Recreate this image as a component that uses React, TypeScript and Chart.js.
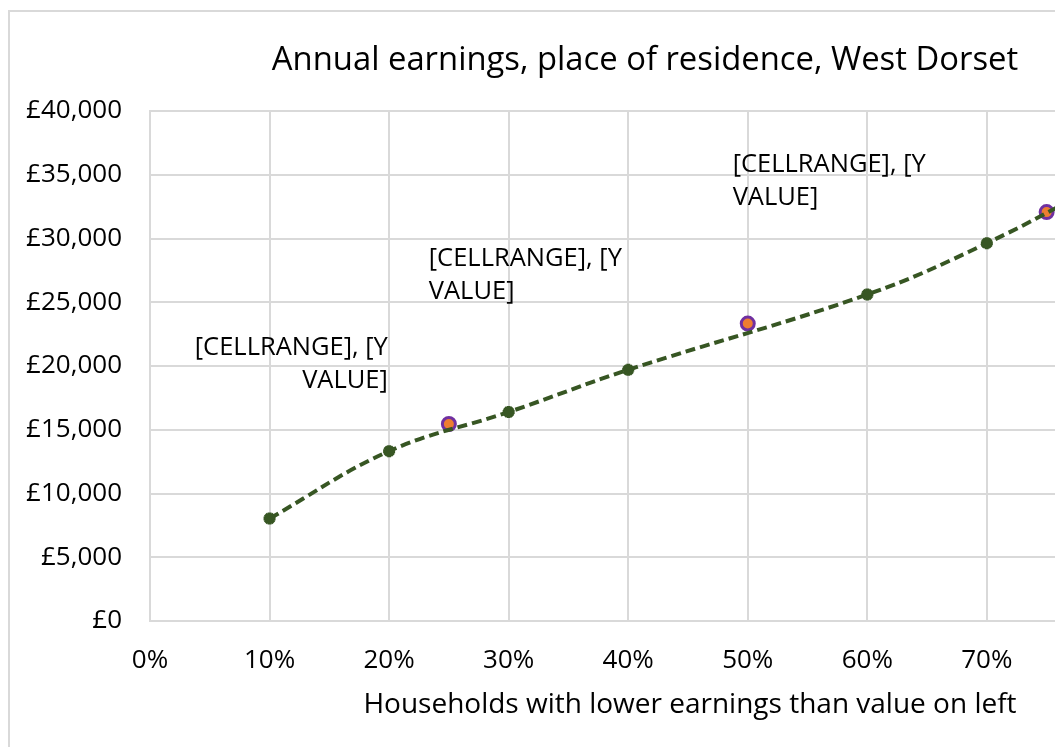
import { useEffect, useRef } from "react";
import { Chart, registerables } from "chart.js";

Chart.register(...registerables);

// ---- data ----
const decilePositions = [0.1, 0.2, 0.3, 0.4, 0.6, 0.7, 0.8];
const decileEarnings = [8040, 13320, 16390, 19700, 25610, 29630, 34500];
const quartilePositions = [0.25, 0.5, 0.75];
const quartileEarnings = [15450, 23330, 32070];
const quartileLabelLines = ["[CELLRANGE], [Y", "VALUE]"];
const xTickValues = [0, 0.1, 0.2, 0.3, 0.4, 0.5, 0.6, 0.7];
const xAxisMin = 0;
const xAxisMax = 0.757;
const yAxisMin = 0;
const yAxisMax = 40000;
const yAxisStep = 5000;
const chartTitle = "Annual earnings, place of residence, West Dorset";
const xAxisTitle = "Households with lower earnings than value on left";

const FONT = "'Open Sans', sans-serif";
const GREEN = "#375623";
const GRID = "#d9d9d9";

// label placement relative to each quartile point (px)
const labelPlacement = [
  { align: "right" as CanvasTextAlign, dx: -61, dy: -76 },
  { align: "left" as CanvasTextAlign, dx: -319, dy: -65 },
  { align: "left" as CanvasTextAlign, dx: -314, dy: -47 },
];

const textPlugin = {
  id: "textPlugin",
  afterDatasetsDraw(chart: any) {
    const ctx = chart.ctx as CanvasRenderingContext2D;
    ctx.save();
    ctx.fillStyle = "#000";
    const meta = chart.getDatasetMeta(1);
    ctx.font = `25.5px ${FONT}`;
    ctx.textBaseline = "middle";
    meta.data.forEach((pt: any, i: number) => {
      const p = labelPlacement[i];
      if (!p) return;
      ctx.textAlign = p.align;
      quartileLabelLines.forEach((line, j) => {
        ctx.fillText(line, pt.x + p.dx, pt.y + p.dy + j * 33);
      });
    });
    ctx.restore();
  },
  afterDraw(chart: any) {
    const ctx = chart.ctx as CanvasRenderingContext2D;
    ctx.save();
    ctx.fillStyle = "#000";
    ctx.textAlign = "center";
    ctx.textBaseline = "middle";
    ctx.font = `32.8px ${FONT}`;
    ctx.fillText(chartTitle, 645, 61);
    ctx.font = `28px ${FONT}`;
    ctx.fillText(xAxisTitle, 690, 705);
    ctx.restore();
  },
};

export default function App() {
  const canvasRef = useRef<HTMLCanvasElement | null>(null);

  useEffect(() => {
    if (!canvasRef.current) return;
    const chart = new Chart(canvasRef.current, {
      type: "line",
      data: {
        datasets: [
          {
            label: "Deciles",
            data: decilePositions.map((x, i) => ({ x, y: decileEarnings[i] })),
            borderColor: GREEN,
            backgroundColor: GREEN,
            borderWidth: 4,
            borderDash: [10, 5],
            tension: 0.4,
            pointStyle: "star",
            pointRadius: 6,
            pointBorderWidth: 4,
            pointBorderColor: GREEN,
            pointBackgroundColor: GREEN,
          },
          {
            label: "Quartiles",
            data: quartilePositions.map((x, i) => ({ x, y: quartileEarnings[i] })),
            showLine: false,
            pointStyle: "circle",
            pointRadius: 6.5,
            pointBorderWidth: 3,
            pointBorderColor: "#7030a0",
            pointBackgroundColor: "#ed7d31",
          },
        ],
      },
      options: {
        animation: false,
        responsive: false,
        devicePixelRatio: 1,
        layout: { autoPadding: false, padding: { top: 111, left: 0, right: 0, bottom: 0 } },
        plugins: {
          legend: { display: false },
          tooltip: { enabled: false },
          title: { display: false },
        },
        scales: {
          x: {
            type: "linear",
            min: xAxisMin,
            max: xAxisMax,
            afterBuildTicks: (scale: any) => {
              scale.ticks = xTickValues.map((v) => ({ value: v }));
            },
            afterFit: (scale: any) => {
              scale.height = 126;
              scale.paddingLeft = 0;
              scale.paddingRight = 0;
            },
            grid: { color: GRID, lineWidth: 2, drawTicks: false },
            border: { color: GRID, width: 2 },
            ticks: {
              padding: 24,
              color: "#000",
              font: { family: FONT, size: 26 },
              maxRotation: 0,
              callback: (v: any) => `${Math.round(Number(v) * 100)}%`,
            },
          },
          y: {
            min: yAxisMin,
            max: yAxisMax,
            afterFit: (scale: any) => {
              scale.width = 150;
              scale.paddingTop = 0;
              scale.paddingBottom = 0;
            },
            grid: { color: GRID, lineWidth: 2, drawTicks: false },
            border: { color: GRID, width: 2 },
            ticks: {
              stepSize: yAxisStep,
              padding: 28,
              color: "#000",
              font: { family: FONT, size: 26 },
              callback: (v: any) => `£${Number(v).toLocaleString("en-GB")}`,
            },
          },
        },
      },
      plugins: [textPlugin],
    });
    return () => chart.destroy();
  }, []);

  return (
    <div
      style={{
        position: "fixed",
        left: 0,
        top: 0,
        width: 1055,
        height: 747,
        overflow: "hidden",
        background: "#fff",
      }}
    >
      <div
        style={{
          position: "absolute",
          left: 8,
          top: 10,
          right: -10,
          bottom: -10,
          borderLeft: `2px solid ${GRID}`,
          borderTop: `2px solid ${GRID}`,
        }}
      />
      <canvas
        ref={canvasRef}
        width={1055}
        height={747}
        style={{ position: "absolute", left: 0, top: 0, width: 1055, height: 747 }}
      />
    </div>
  );
}
